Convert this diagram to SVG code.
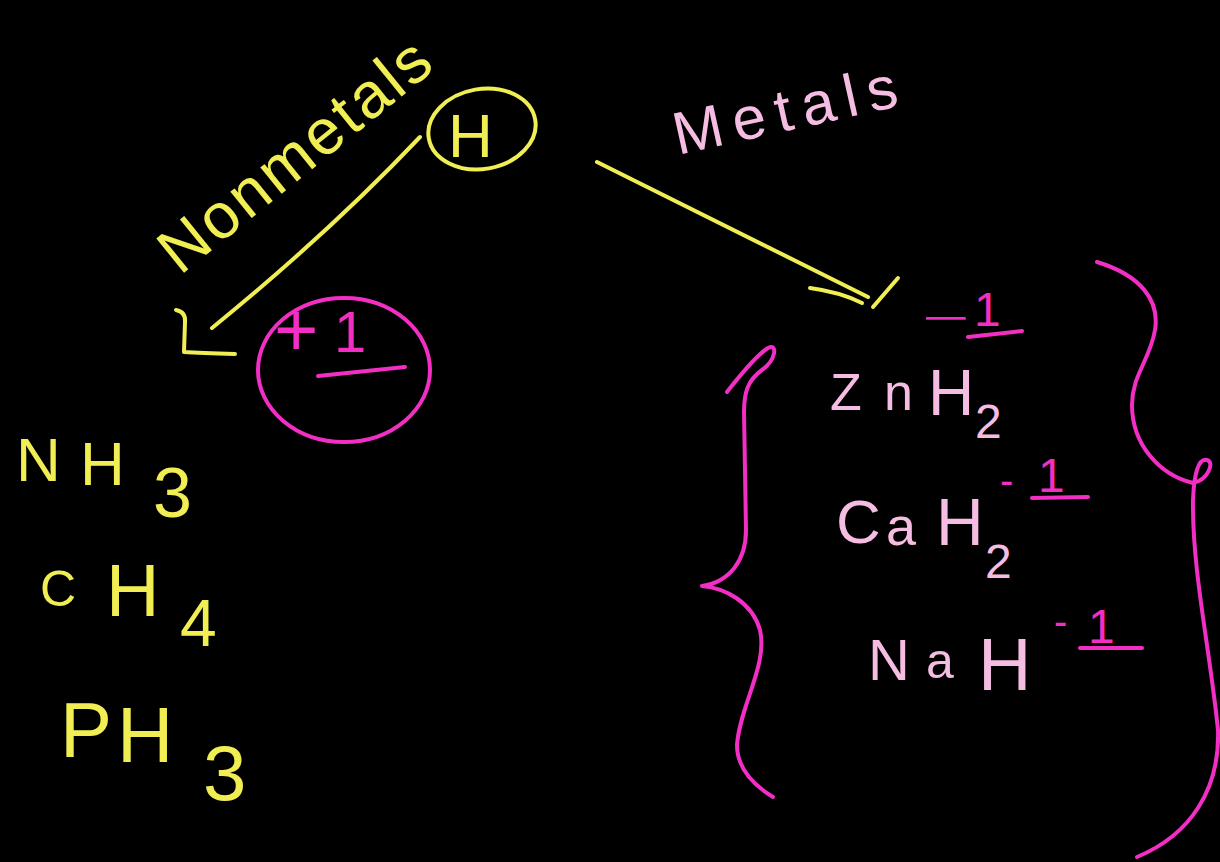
<svg xmlns="http://www.w3.org/2000/svg" width="1220" height="862" viewBox="0 0 1220 862">
<style>
.t{font-family:"Liberation Sans",Arial,sans-serif;font-weight:normal}
.y{fill:#f0ee52}
.p{fill:#f6bde3}
.m{fill:#f22ec4}
.sy{fill:none;stroke:#f0ee52;stroke-width:4;stroke-linecap:round;stroke-linejoin:round}
.sm{fill:none;stroke:#f22ec4;stroke-width:4;stroke-linecap:round;stroke-linejoin:round}
</style>
<rect width="1220" height="862" fill="#000"/>

<g id="hydrogen">
<ellipse cx="482" cy="129" rx="54" ry="40" transform="rotate(-10 482 129)" class="sy"/>
<text class="t y" x="448" y="157" font-size="62">H</text>
</g>

<g id="label-nonmetals">
<text class="t y" x="180" y="276" font-size="64" textLength="330" lengthAdjust="spacing" transform="rotate(-39 180 276)">Nonmetals</text>
</g>

<g id="label-metals">
<text class="t p" x="678" y="155" font-size="60" textLength="228" lengthAdjust="spacing" transform="rotate(-12.5 678 155)">Metals</text>
</g>

<g id="connectors">
<path class="sy" d="M420,137 Q330,232 212,328"/>
<path class="sy" d="M176,310 Q186,312 185,322 L184,352 Q200,353 235,354"/>
<path class="sy" d="M597,162 L868,297"/>
<path class="sy" d="M810,288 Q840,292 862,303"/>
<path class="sy" d="M873,307 L898,278"/>
</g>

<g id="charge-plus1">
<ellipse cx="344" cy="370" rx="86" ry="72" class="sm"/>
<text class="t m" y="352" font-size="58"><tspan x="274" y="356" font-size="76">+</tspan><tspan x="334" y="352">1</tspan></text>
<path class="sm" d="M318,376 L405,367"/>
</g>

<g id="nonmetal-hydrides">
<text class="t y" font-size="62"><tspan x="16" y="481">N</tspan><tspan x="80" y="485">H</tspan><tspan x="153" y="517" font-size="70">3</tspan></text>
<text class="t y" font-size="74"><tspan x="40" y="606" font-size="50">C</tspan><tspan x="106" y="616">H</tspan><tspan x="180" y="646" font-size="66">4</tspan></text>
<text class="t y" font-size="78"><tspan x="60" y="757">P</tspan><tspan x="117" y="762">H</tspan><tspan x="203" y="800" font-size="78">3</tspan></text>
</g>

<g id="metal-hydrides">
<text class="t p" font-size="52"><tspan x="830" y="410">Z</tspan><tspan x="884" y="410">n</tspan><tspan x="928" y="415" font-size="64">H</tspan><tspan x="975" y="438" font-size="48">2</tspan></text>
<text class="t p" font-size="66"><tspan x="836" y="543" font-size="62">C</tspan><tspan x="886" y="545" font-size="54">a</tspan><tspan x="936" y="545">H</tspan><tspan x="985" y="578" font-size="48">2</tspan></text>
<text class="t p" font-size="58"><tspan x="868" y="680">N</tspan><tspan x="926" y="678" font-size="50">a</tspan><tspan x="978" y="690" font-size="74">H</tspan></text>
</g>

<g id="charges-minus1">
<text class="t m" font-size="48" transform="translate(922,331) scale(1.7,0.8)" x="0" y="0">−</text>
<text class="t m" x="974" y="326" font-size="48">1</text>
<path class="sm" d="M968,337 L1022,331"/>
<text class="t m" font-size="48"><tspan x="1000" y="494" font-size="40">-</tspan><tspan x="1038" y="492">1</tspan></text>
<path class="sm" d="M1032,498 L1088,497"/>
<text class="t m" font-size="48"><tspan x="1054" y="635" font-size="40">-</tspan><tspan x="1088" y="643">1</tspan></text>
<path class="sm" d="M1080,648 L1142,648"/>
</g>

<g id="brace-left">
<path class="sm" d="M727,392 C738,378 755,356 768,348 C778,343 776,360 762,370 C748,380 744,392 744,412 L746,530 C746,560 730,582 702,586 C725,588 752,602 760,630 C768,665 740,705 737,745 C737,770 755,786 773,797"/>
</g>

<g id="brace-right">
<path class="sm" d="M1097,262 C1140,275 1160,300 1155,330 C1150,360 1132,375 1132,405 C1132,445 1160,475 1193,483 C1208,480 1215,462 1207,460 C1198,458 1194,475 1193,500 C1192,570 1210,650 1218,730 C1220,790 1190,835 1137,857"/>
</g>
</svg>
